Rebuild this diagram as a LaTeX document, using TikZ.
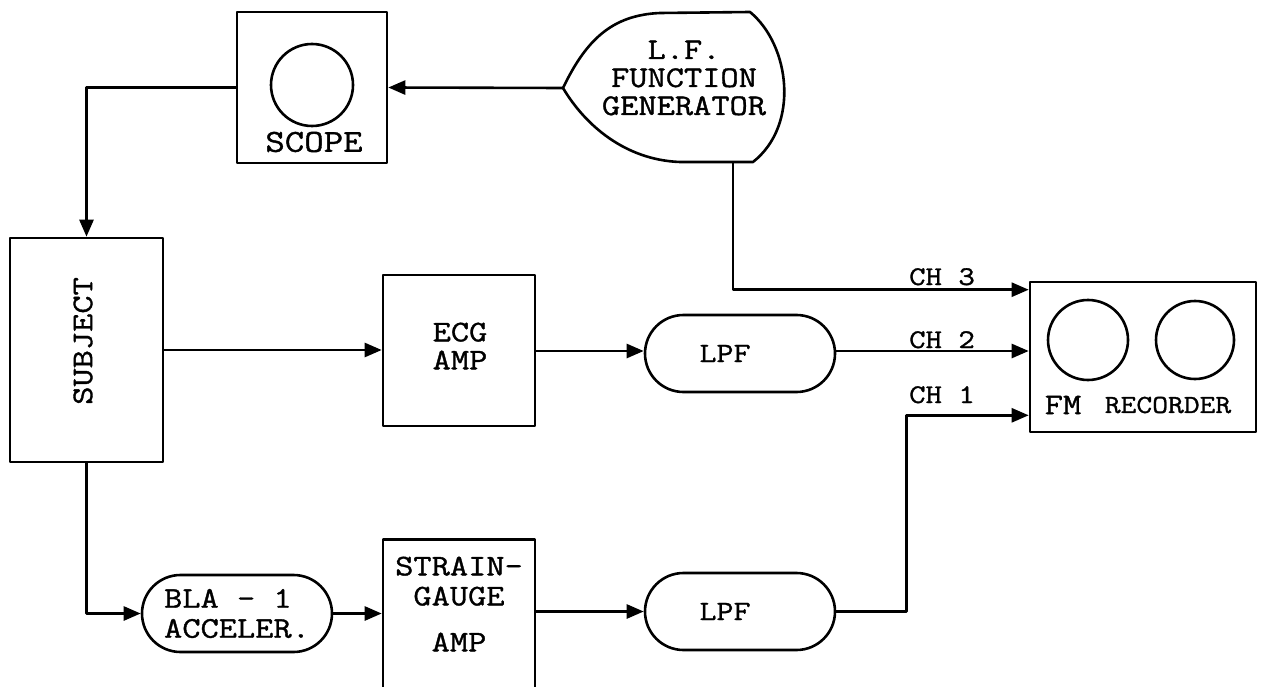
\documentclass[tikz,border=0pt]{standalone}
\usepackage{fontspec}
\setmonofont{Latin Modern Mono}[FakeStretch=1.18, FakeBold=1.2]
\usetikzlibrary{arrows.meta,shapes.misc,calc}
\tikzset{
  box/.style={draw, rectangle, inner sep=0pt},
  pill/.style={draw, rounded rectangle, inner sep=0pt, minimum width=190pt, minimum height=77pt},
  reel/.style={draw, circle, inner sep=0pt},
  txt/.style={font=\ttfamily\fontsize{30}{28}\selectfont, inner sep=0pt, align=center},
  chtxt/.style={font=\ttfamily\fontsize{27}{28}\selectfont, inner sep=0pt, anchor=base},
  arr/.style={-{Triangle[length=17pt,width=14pt]}},
}
\begin{document}
\begin{tikzpicture}[x=1pt,y=-1pt, line width=2.6pt, line join=round]
\useasboundingbox (0,0) rectangle (1263,687);
% scope
\node[box, minimum width=150pt, minimum height=151pt] (scope) at (312,87.5) {};
\node[reel, minimum size=82pt] (scopecrt) at (312,85) {};
\node[txt, font=\ttfamily\fontsize{32}{28}\selectfont] (scopetxt) at (314,142) {SCOPE};
% function generator
\coordinate (gentip) at (563,88);
\coordinate (genbot) at (733,162);
\draw (563,88) .. controls (586,40) and (612,15) .. (660,13) -- (750,12)
      .. controls (790,45) and (800,125) .. (753,162) -- (680,162)
      .. controls (625,160) and (585,125) .. (563,88) -- cycle;
\node[txt, font=\ttfamily\fontsize{30}{28}\selectfont] (gentxt) at (684,78) {L.F.\\FUNCTION\\GENERATOR};
% subject
\node[box, minimum width=153pt, minimum height=224pt] (subject) at (86.5,350) {};
\node[txt, rotate=90] (subjtxt) at (83,341) {SUBJECT};
% ECG amp
\node[box, minimum width=152pt, minimum height=151pt] (ecg) at (459,350.5) {};
\node[txt, font=\ttfamily\fontsize{30}{28}\selectfont] (ecgtxt) at (460,346) {ECG\\AMP};
% LPF upper
\node[pill, txt, font=\ttfamily\fontsize{28}{28}\selectfont] (lpf1) at (740,353.5) {\hspace*{-30pt}LPF};
% FM recorder
\node[box, minimum width=226pt, minimum height=150pt] (fm) at (1143,357) {};
\node[reel, minimum size=80pt] (reel1) at (1088,340) {};
\node[reel, minimum size=78pt] (reel2) at (1195,340) {};
\node[txt, font=\ttfamily\fontsize{30}{28}\selectfont] (fmtxt) at (1063,405) {FM};
\node[txt, font=\ttfamily\fontsize{26}{28}\selectfont] (rectxt) at (1168,405) {RECORDER};
% BLA accelerometer
\node[pill, txt, align=left, font=\ttfamily\fontsize{30}{30}\selectfont] (bla) at (237,613.5) {BLA - 1\\ACCELER.};
% strain gauge amp
\node[box, minimum width=152pt, minimum height=154pt, anchor=north] (strain) at (459,538) {};
\node[txt, font=\ttfamily\fontsize{30}{30}\selectfont] (straintxt) at (459,604) {STRAIN-\\GAUGE\\[16pt]AMP};
% LPF lower
\node[pill, txt, font=\ttfamily\fontsize{28}{28}\selectfont] (lpf2) at (740,611.5) {\hspace*{-30pt}LPF};
% channel labels
\node[chtxt] (ch3) at (942,285) {CH 3};
\node[chtxt] (ch2) at (942,348) {CH 2};
\node[chtxt] (ch1) at (942,403) {CH 1};
% connectors
\draw[arr] (gentip) -- (scope.east);
\draw[arr] (scope.west) -| (subject.north);
\draw[arr] (subject.east) -- (subject.east -| ecg.west);
\draw[arr] (ecg.east |- 0,351) -- (lpf1.west |- 0,351);
\draw[arr] (lpf1.east |- 0,351) -- (fm.west |- 0,351);
\draw[arr] (genbot) |- ($(fm.north west)+(0,9)$);
\draw[arr] (subject.south) |- (bla.west);
\draw[arr] (bla.east) -- (bla.east -| strain.west);
\draw[arr] (strain.east |- lpf2.west) -- (lpf2.west);
\draw[arr] (lpf2.east) -- ++(70,0) |- ($(fm.south west)+(0,-18)$);
\end{tikzpicture}
\end{document}
